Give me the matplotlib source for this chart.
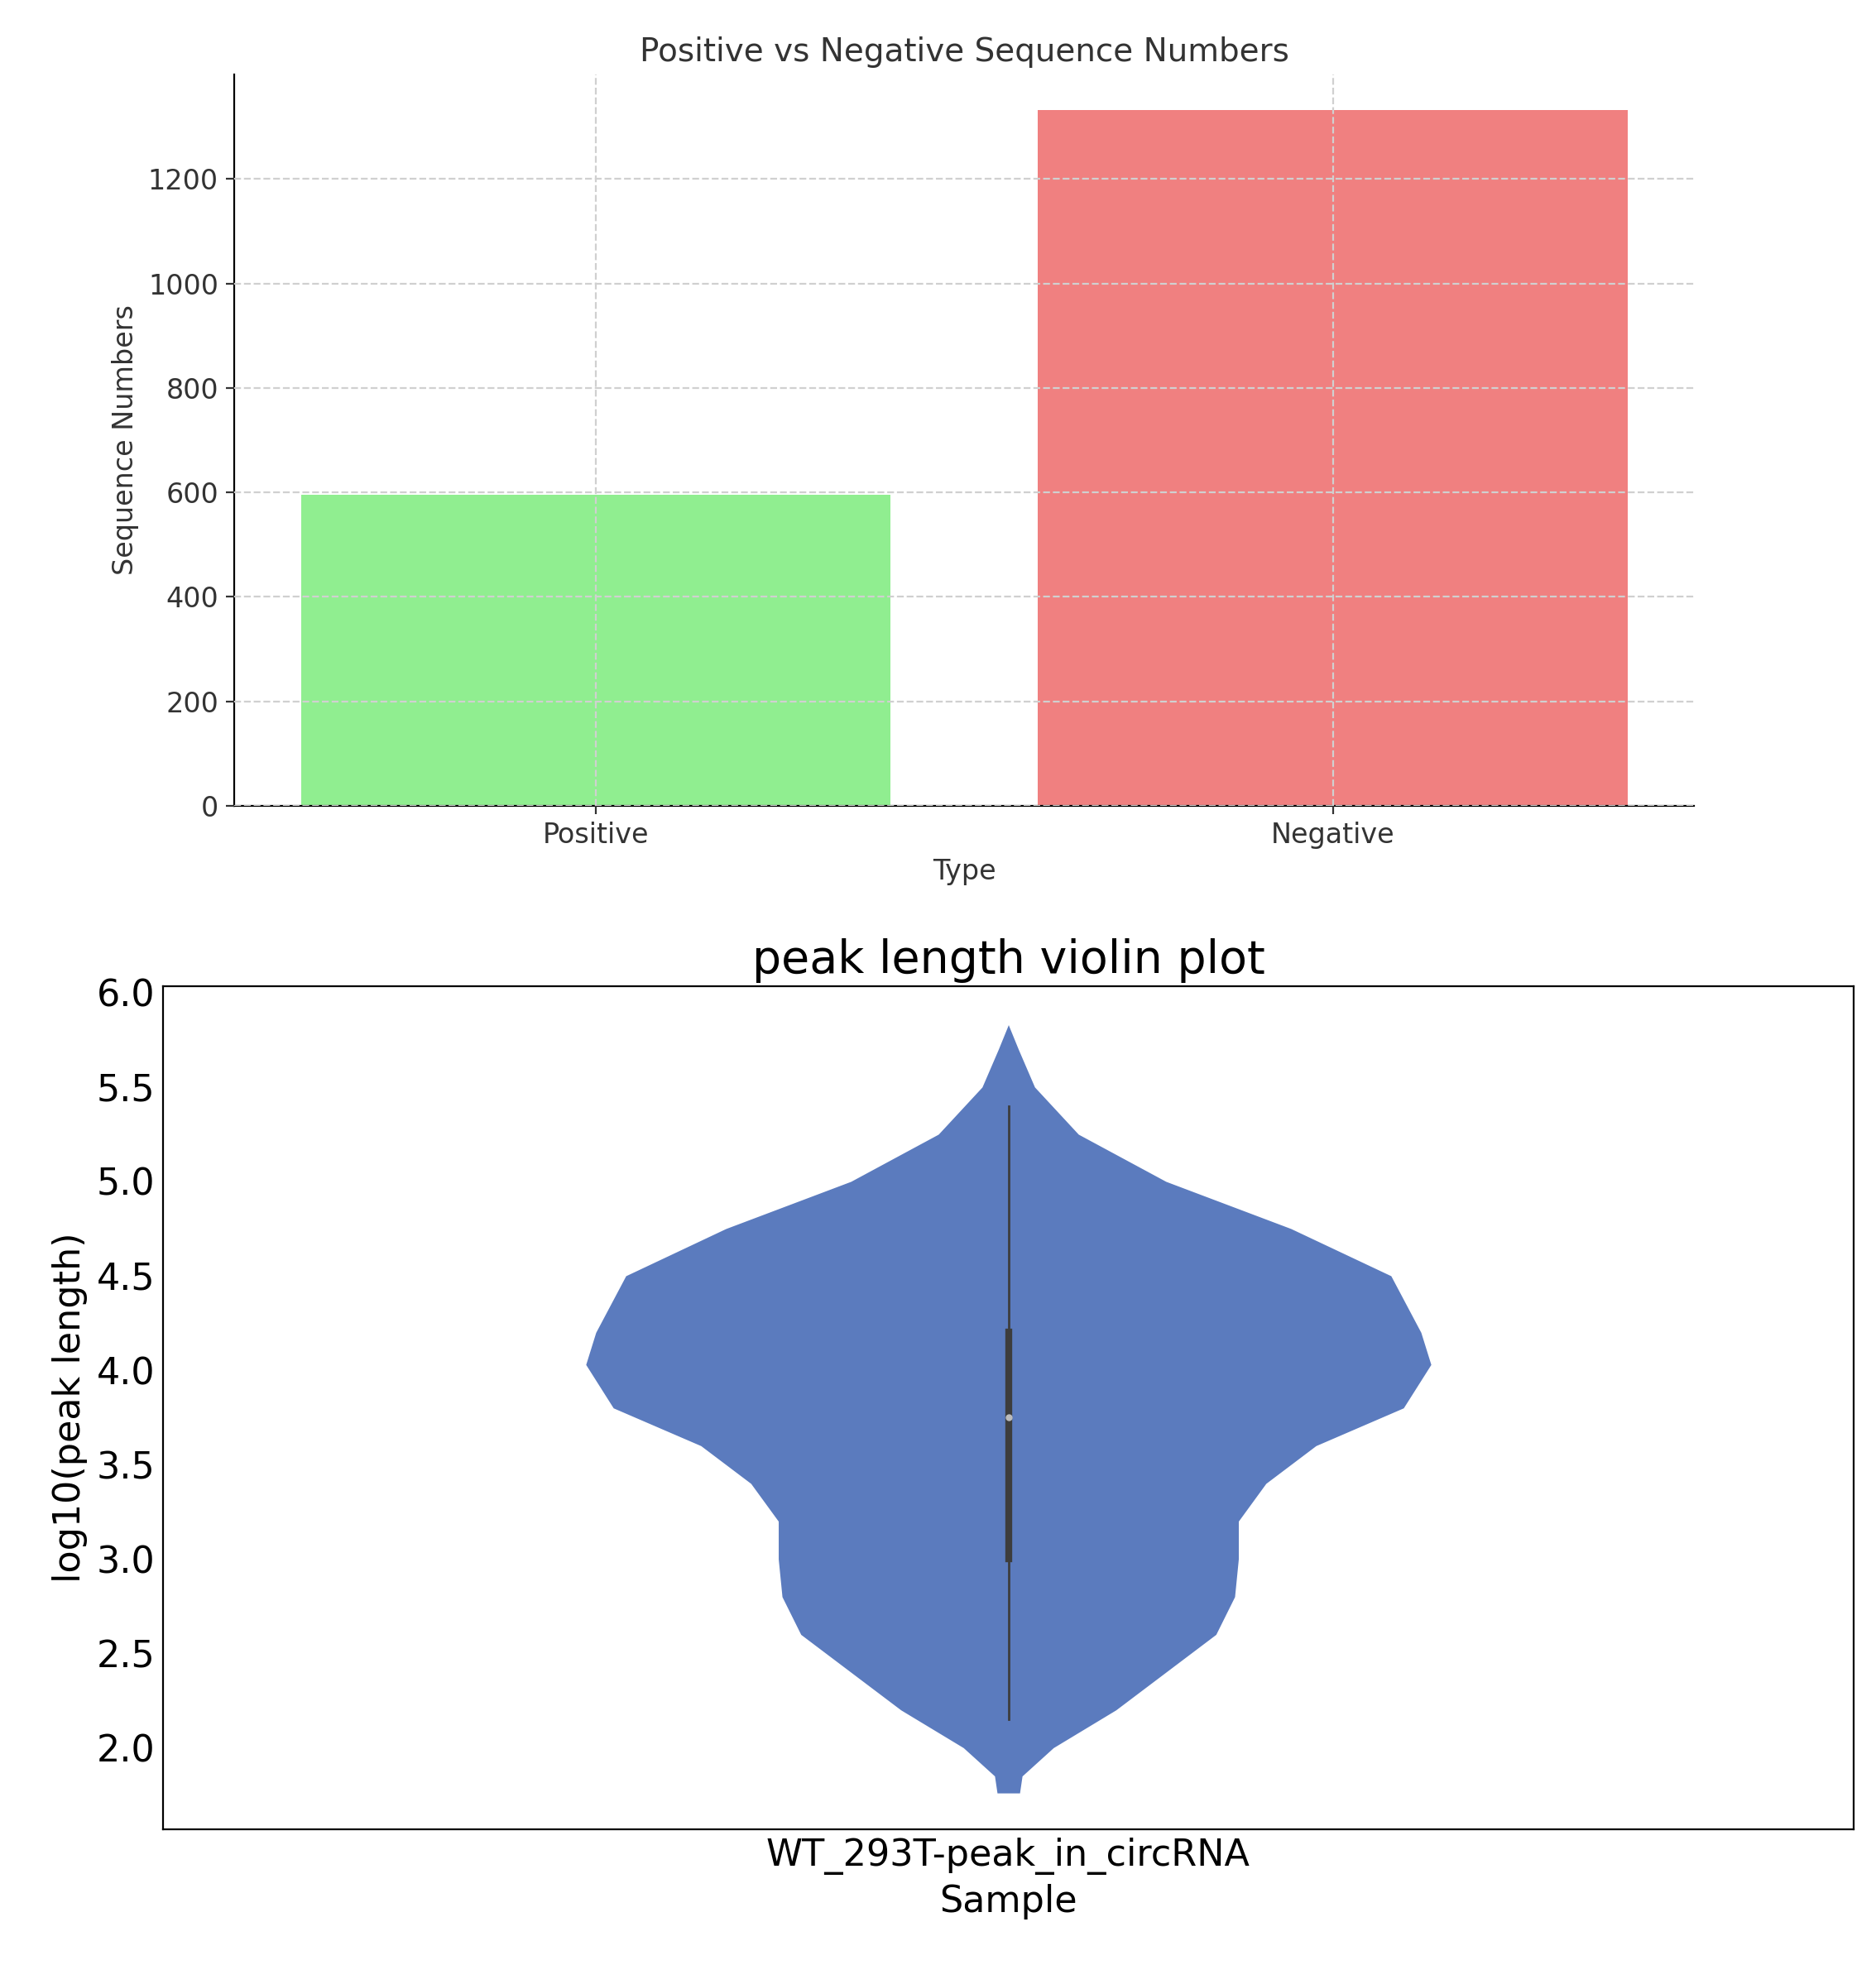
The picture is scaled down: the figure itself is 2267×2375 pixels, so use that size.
import matplotlib
matplotlib.use("Agg")
import matplotlib.pyplot as plt
import numpy as np

types = ["Positive", "Negative"]
counts = [595, 1333]
bar_colors = ["#90EE90", "#F08080"]

# violin density profile (log10 peak length, half width)
vy = [1.76, 1.85, 2.0, 2.2, 2.4, 2.6, 2.8, 3.0, 3.2, 3.4, 3.6, 3.8, 4.03, 4.2, 4.5, 4.75, 5.0, 5.25, 5.5, 5.7, 5.83]
vw = [9, 11, 36, 86, 126, 166, 181, 184, 184, 206, 246, 316, 338, 330, 306, 226, 126, 56, 21, 8, 0]
whisk = [2.15, 5.4]
quart = [3.0, 4.2]
median = 3.75
sample = "WT_293T-peak_in_circRNA"

fig = plt.figure(figsize=(11.335, 11.875), dpi=200)
ax1 = fig.add_axes([0.125, 0.59, 0.778, 0.372])
ax1.bar(types, counts, color=bar_colors, width=0.8, zorder=2)
ax1.grid(True, linestyle="--", color="#d0d0d0", linewidth=0.8, zorder=0)
ax1.set_axisbelow(False)
for l in ax1.get_xgridlines() + ax1.get_ygridlines():
    l.set_zorder(3)
ax1.spines["top"].set_visible(False)
ax1.spines["right"].set_visible(False)
ax1.set_ylim(0, 1400)
ax1.set_yticks(range(0, 1201, 200))
ax1.set_title("Positive vs Negative Sequence Numbers", fontsize=14, color="#333333")
ax1.set_xlabel("Type", fontsize=12, color="#333333")
ax1.set_ylabel("Sequence Numbers", fontsize=12, color="#333333")
ax1.tick_params(labelsize=12, colors="#333333")

ax2 = fig.add_axes([0.087, 0.069, 0.901, 0.429])
w = np.array(vw) / 1352.0
ax2.fill_betweenx(vy, -w, w, color="#5B7BBE", linewidth=0)
ax2.plot([0, 0], whisk, color="#3d3d3d", linewidth=1)
ax2.plot([0, 0], quart, color="#3d3d3d", linewidth=3)
ax2.plot([0], [median], marker="o", color="#bbbbbb", markersize=2)
ax2.set_xlim(-0.5, 0.5)
ax2.set_ylim(1.567, 6.033)
ax2.set_xticks([0])
ax2.set_xticklabels([sample])
ax2.set_yticks(np.arange(2.0, 6.01, 0.5))
ax2.set_title("peak length violin plot", fontsize=20)
ax2.set_xlabel("Sample", fontsize=16)
ax2.set_ylabel("log10(peak length)", fontsize=16)
ax2.tick_params(labelsize=16, length=0)
fig.savefig("out.png")
